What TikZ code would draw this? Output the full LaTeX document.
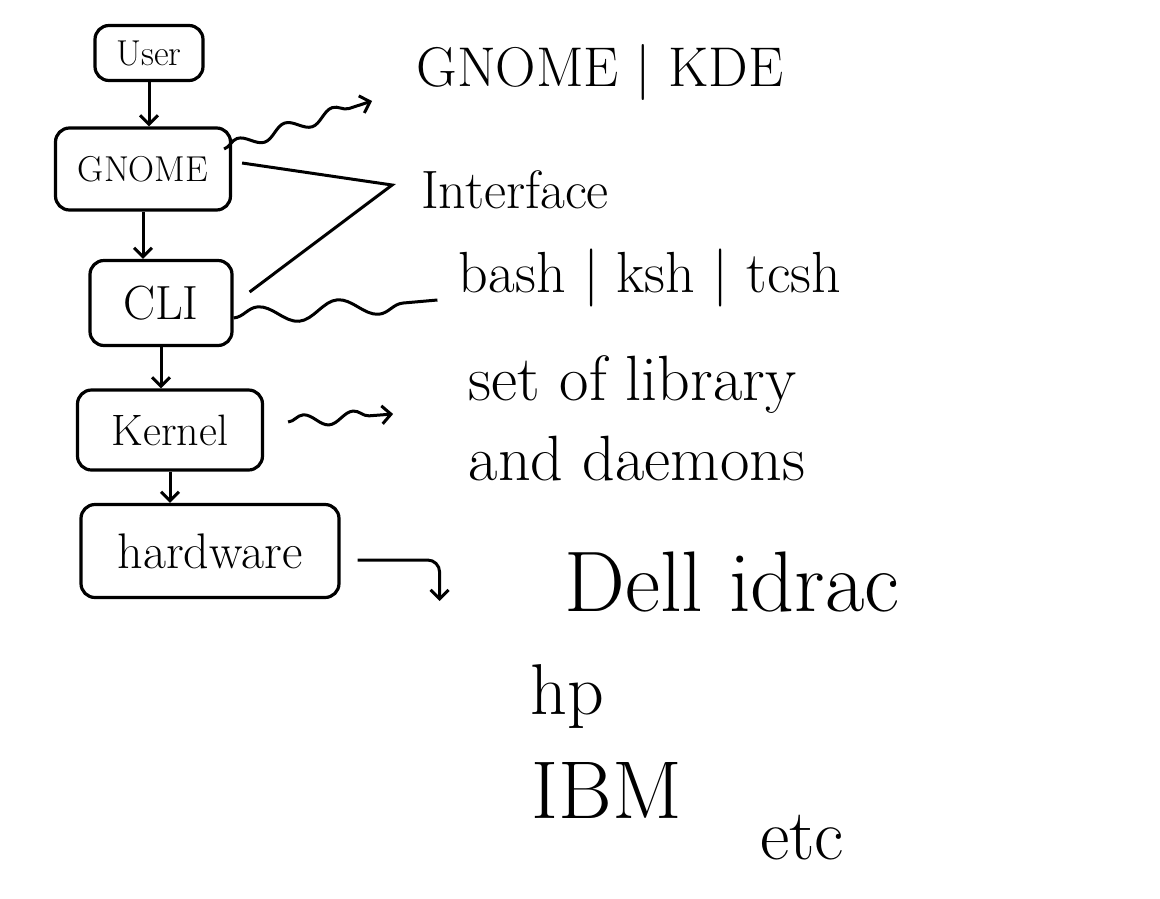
\documentclass[tikz,border=0pt]{standalone}
\usepackage{tikz}
\usetikzlibrary{decorations.pathmorphing, calc, arrows.meta}

\tikzset{
  layer/.style={draw, line width=3.2pt, rounded corners=14pt, inner sep=0pt},
  note/.style={inner sep=0pt, anchor=center},
  wave/.style={decorate, decoration={snake, amplitude=6pt, segment length=50pt, post length=14pt}},
}

\begin{document}
\begin{tikzpicture}[x=1pt, y=-1pt, line width=3pt, >={Straight Barb[length=9pt, width=18pt]}]
    \useasboundingbox (0,0) rectangle (1160,898);

    % The stack on the left
    \node[layer, minimum width=108pt, minimum height=55pt, font=\fontsize{36}{40}\selectfont] (user) at (149,53) {User};
    \node[layer, minimum width=175pt, minimum height=82pt, font=\fontsize{36}{40}\selectfont] (gnome) at (143,169) {GNOME};
    \node[layer, minimum width=142pt, minimum height=85pt, font=\fontsize{48}{52}\selectfont] (cli) at (161,303) {CLI};
    \node[layer, minimum width=185pt, minimum height=80pt, font=\fontsize{44}{48}\selectfont] (kernel) at (170,430) {Kernel};
    \node[layer, minimum width=258pt, minimum height=93pt, font=\fontsize{50}{54}\selectfont] (hw) at (210,551) {hardware};

    % Down arrows between layers
    \draw[->] (user.south) -- (user.south |- gnome.north);
    \draw[->] (gnome.south) -- (gnome.south |- cli.north);
    \draw[->] (cli.south) -- (cli.south |- kernel.north);
    \draw[->] (kernel.south) -- (kernel.south |- hw.north);

    % Notes on the right
    \node[note, font=\fontsize{56}{60}\selectfont] (desktops) at (600,72) {GNOME | KDE};
    \node[note, font=\fontsize{54}{60}\selectfont] (iface) at (515,190) {Interface};
    \node[note, font=\fontsize{58}{64}\selectfont] (shells) at (650,278) {bash | ksh | tcsh};
    \node[note, align=left, font=\fontsize{64}{80}\selectfont] (libs) at (637,418) {set of library\\and daemons};
    \node[note, font=\fontsize{86}{90}\selectfont] (dell) at (732,582) {Dell idrac};
    \node[note, font=\fontsize{72}{76}\selectfont] (hp) at (567,697) {hp};
    \node[note, font=\fontsize{82}{88}\selectfont] (ibm) at (607,790) {IBM};
    \node[note, font=\fontsize{72}{76}\selectfont] (etc) at (802,838) {etc};

    % Connectors to the notes
    \coordinate (ifacetip) at ($(gnome.east)+(160,16)$);
    \coordinate (vendtip) at ($(hw.east)+(99,50)$);

    \draw[->, wave] ($(gnome.east)+(-8,-20)$) -- ($(gnome.east)+(140,-68)$);
    \draw ($(gnome.east)+(10,-6)$) -- (ifacetip) -- ($(cli.east)+(16,-11)$);
    \draw[decorate, decoration={snake, amplitude=9pt, segment length=80pt}] ($(cli.east)+(0,15)$) -- ($(shells.west)+(-20,22)$);
    \draw[->, wave] ($(kernel.east)+(24,-8)$) -- ($(kernel.east)+(129,-16)$);
    \draw[->, rounded corners=12pt] ($(hw.east)+(17,9)$) -| (vendtip);
\end{tikzpicture}
\end{document}
